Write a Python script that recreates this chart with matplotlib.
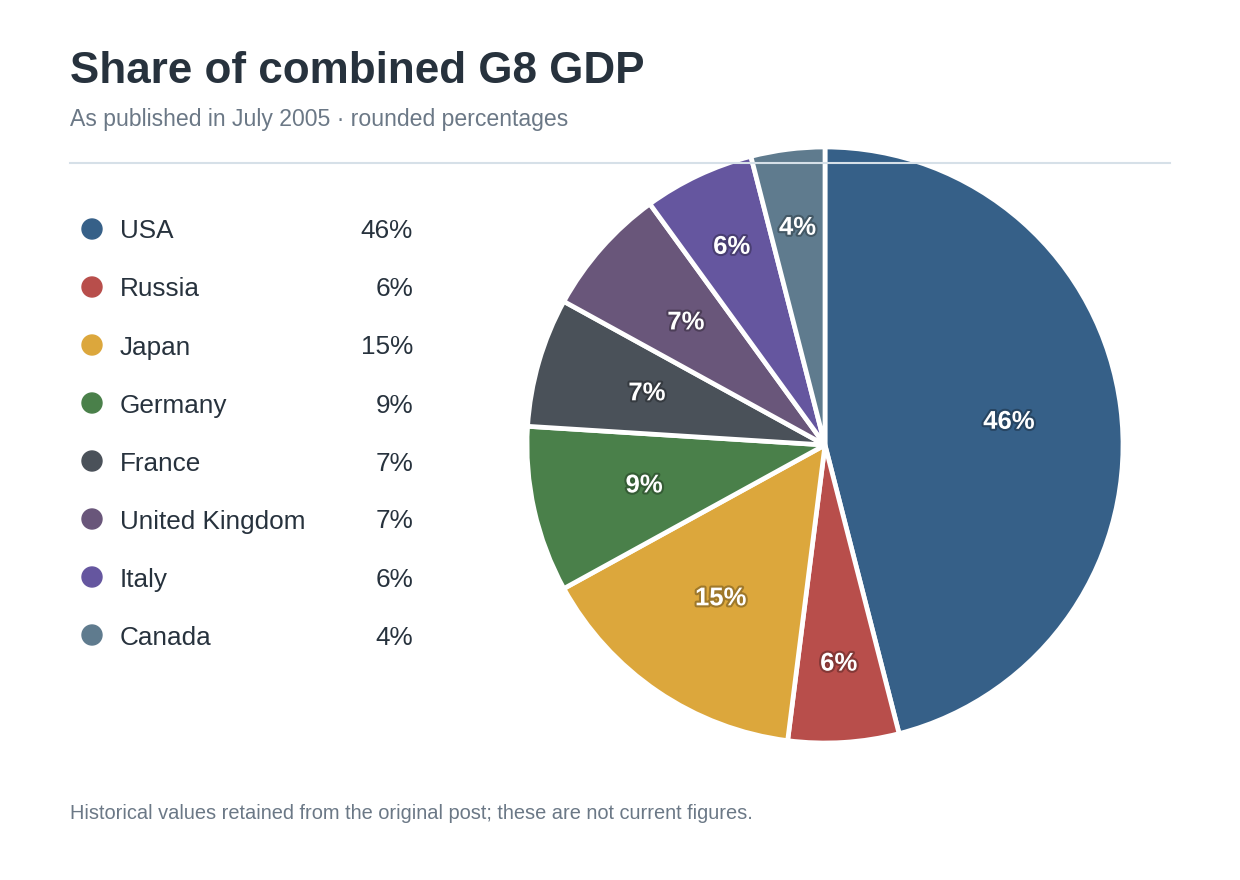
import matplotlib
matplotlib.use("Agg")
import matplotlib.pyplot as plt
import matplotlib.patheffects as pe
from matplotlib.colors import to_rgb
import numpy as np

countries = ["USA", "Russia", "Japan", "Germany", "France", "United Kingdom", "Italy", "Canada"]
shares = [46, 6, 15, 9, 7, 7, 6, 4]
colors = ["#366088", "#b84e4b", "#dca73c", "#4a804a", "#4a5159", "#69567a", "#65569f", "#5f7b8e"]
title = "Share of combined G8 GDP"
subtitle = "As published in July 2005 \u00b7 rounded percentages"
footer = "Historical values retained from the original post; these are not current figures."

W, H = 1240, 880
plt.rcParams['font.family'] = ['Liberation Sans', 'DejaVu Sans']
fig = plt.figure(figsize=(W / 100, H / 100), dpi=100)
fig.patch.set_facecolor("white")


def fx(px):
    return px / W


def fy(py):
    return 1 - py / H


TEXT = "#27323d"
MUTED = "#6b7886"

fig.text(fx(70), fy(83), title, fontsize=31.7, fontweight="bold", color=TEXT, va="baseline", ha="left")
fig.text(fx(70), fy(126), subtitle, fontsize=16.6, color=MUTED, va="baseline", ha="left")
fig.text(fx(70), fy(819), footer, fontsize=14.4, color=MUTED, va="baseline", ha="left")
fig.add_artist(plt.Line2D([fx(70), fx(1170)], [fy(163), fy(163)], color="#d6e0e8", lw=1.5))

# legend
for i, (c, v, col) in enumerate(zip(countries, shares, colors)):
    yc = 229 + 58 * i
    fig.add_artist(matplotlib.patches.Ellipse((fx(92), fy(yc)), 20 / W, 20 / H, color=col, transform=fig.transFigure))
    fig.text(fx(120), fy(yc + 9.5), c, fontsize=18.8, color=TEXT, va="baseline", ha="left")
    fig.text(fx(413), fy(yc + 9.5), f"{v}%", fontsize=18.8, color=TEXT, va="baseline", ha="right")

# pie
cx, cy, r = 825, 445, 298
ax = fig.add_axes([fx(cx - r), fy(cy + r), 2 * r / W, 2 * r / H])
wedges, _ = ax.pie(shares, colors=colors, startangle=90, counterclock=False,
                   wedgeprops=dict(edgecolor="white", linewidth=3.4, joinstyle="bevel"))
ax.set_xlim(-1, 1)
ax.set_ylim(-1, 1)
ax.set_aspect("equal")
ax.axis("off")
for w in wedges:
    w.set_clip_on(False)

for w, v, col in zip(wedges, shares, colors):
    ang = np.deg2rad((w.theta1 + w.theta2) / 2)
    d = 0.735 if v < 7 else 0.622
    dark = tuple(np.array(to_rgb(col)) * 0.72)
    ax.text(d * np.cos(ang), d * np.sin(ang), f"{v}%", ha="center", va="center",
            fontsize=18.5, fontweight="bold", color="white",
            path_effects=[pe.withStroke(linewidth=3, foreground=dark)])

fig.savefig("out.png", dpi=100, facecolor="white")
